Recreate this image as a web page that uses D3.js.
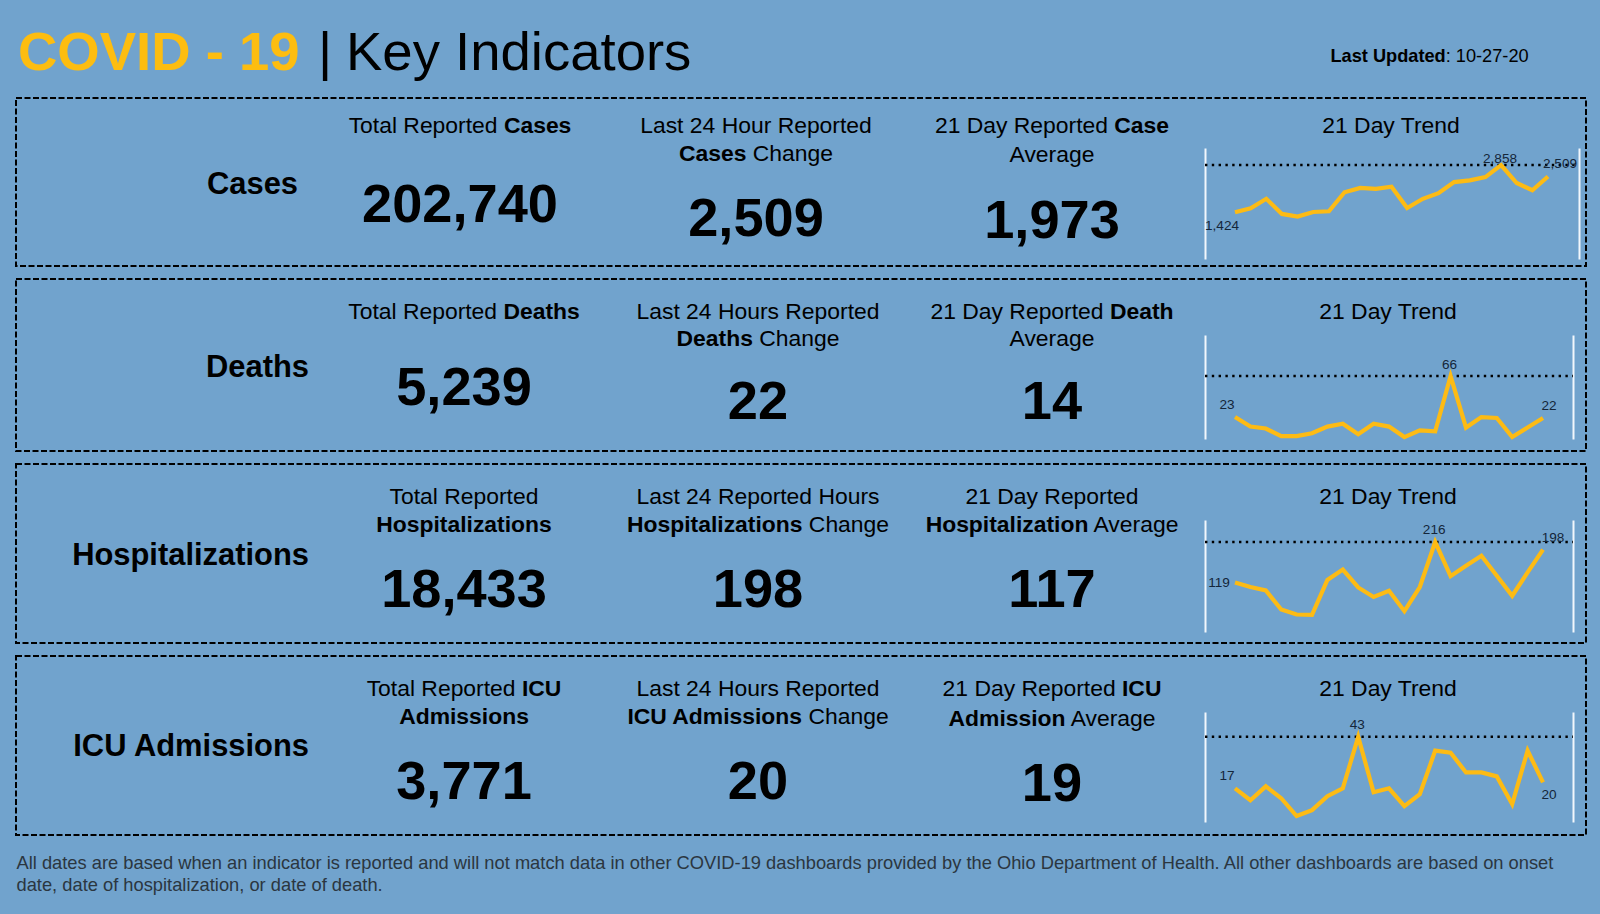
<!DOCTYPE html>
<html>
<head>
<meta charset="utf-8">
<title>COVID - 19 | Key Indicators</title>
<script src="https://cdn.jsdelivr.net/npm/d3@7"></script>
<style>
    html, body { margin: 0; padding: 0; background: #71a3cd; }
    svg { display: block; }
    text { font-family: "Liberation Sans", Arial, sans-serif; fill: #000; }
</style>
</head>
<body>
<script>
// values
const rowNames = ['Cases', 'Deaths', 'Hospitalizations', 'ICU Admissions'];
const totals = ['202,740', '5,239', '18,433', '3,771'];
const changes = ['2,509', '22', '198', '20'];
const averages = ['1,973', '14', '117', '19'];

const caseTrend = [1424, 1540, 1830, 1370, 1290, 1430, 1450, 2030, 2160, 2130, 2200, 1550, 1830, 2000, 2340, 2390, 2490, 2858, 2310, 2090, 2509];
const deathTrend = [23, 13, 11, 3, 3, 6, 13, 16, 5, 16, 13, 2, 9, 8, 66, 12, 23, 22, 2, 12, 22];
const hospTrend = [119, 108, 100, 54, 42, 41, 125, 150, 107, 84, 99, 50, 108, 216, 134, 159, 183, 135, 87, 143, 198];
const icuTrend = [17, 11, 18, 12, 3, 6, 13, 17, 43, 15, 17, 8, 14, 36, 35, 25, 25, 23, 9, 36, 20];
const trends = [caseTrend, deathTrend, hospTrend, icuTrend];

// ** marks the bold part of a header line
const totalHeaders = [
    ['Total Reported **Cases'],
    ['Total Reported **Deaths'],
    ['Total Reported', '**Hospitalizations'],
    ['Total Reported **ICU', '**Admissions']
];
const changeHeaders = [
    ['Last 24 Hour Reported', '**Cases** Change'],
    ['Last 24 Hours Reported', '**Deaths** Change'],
    ['Last 24 Reported Hours', '**Hospitalizations** Change'],
    ['Last 24 Hours Reported', '**ICU Admissions** Change']
];
const averageHeaders = [
    ['21 Day Reported **Case', 'Average'],
    ['21 Day Reported **Death', 'Average'],
    ['21 Day Reported', '**Hospitalization** Average'],
    ['21 Day Reported **ICU', '**Admission** Average']
];

const footnote = [
    'All dates are based when an indicator is reported and will not match data in other COVID-19 dashboards provided by the Ohio Department of Health. All other dashboards are based on onset',
    'date, date of hospitalization, or date of death.'
];

// layout, one entry per row
const layout = [
    { top: 98, bottom: 266, nameX: 298, nameY: 194, headY: 133, lineGap: 27.5, col1: 460, col2: 756, col3: 1052, trendTitle: 1391,
      totalY: 221.5, changeY: 236, avgY: 238, avg2Y: 162,
      plotTop: 148, plotBottom: 259, plotRight: 1579, lastX: 1548, axisTop: 3375,
      first: [-13, 18], peak: [-1, -2], last: [12, -8.5] },
    { top: 279, bottom: 451, nameX: 309, nameY: 376.5, headY: 318.5, lineGap: 27.5, col1: 464, col2: 758, col3: 1052, trendTitle: 1388,
      totalY: 405, changeY: 418.5, avgY: 418.5, avg2Y: 346,
      plotTop: 335, plotBottom: 439, plotRight: 1573, lastX: 1543, axisTop: 109,
      first: [-8, -8], peak: [-1, -7.5], last: [6, -8] },
    { top: 464, bottom: 643, nameX: 309, nameY: 565, headY: 504, lineGap: 27.5, col1: 464, col2: 758, col3: 1052, trendTitle: 1388,
      totalY: 607, changeY: 607, avgY: 607, avg2Y: 531.5,
      plotTop: 520, plotBottom: 632, plotRight: 1573, lastX: 1543, axisTop: 269,
      first: [-16, 5], peak: [-1, -8], last: [10, -7.5] },
    { top: 656, bottom: 835, nameX: 309, nameY: 756, headY: 696, lineGap: 27.5, col1: 464, col2: 758, col3: 1052, trendTitle: 1388,
      totalY: 799, changeY: 799, avgY: 801, avg2Y: 725.5,
      plotTop: 712, plotBottom: 822, plotRight: 1573, lastX: 1543, axisTop: 55.5,
      first: [-8, -8], peak: [-1, -8], last: [6, 16.5] }
];

const LINE_COLOR = '#fdbb14';
const LABEL_COLOR = '#14263a';

const svg = d3.select('body').append('svg')
    .attr('width', 1600)
    .attr('height', 914);

svg.append('rect')
    .attr('width', 1600)
    .attr('height', 914)
    .attr('fill', '#71a3cd');

// title, the three parts sit at their own x
svg.append('text')
    .attr('x', 18)
    .attr('y', 70)
    .attr('font-size', 54.5)
    .attr('font-weight', 'bold')
    .style('fill', '#fdbd10')
    .text('COVID - 19');
svg.append('text')
    .attr('x', 318)
    .attr('y', 70)
    .attr('font-size', 54.5)
    .text('|');
svg.append('text')
    .attr('x', 346)
    .attr('y', 70)
    .attr('font-size', 54.5)
    .text('Key Indicators');

const updated = svg.append('text')
    .attr('x', 1330.5)
    .attr('y', 62)
    .attr('font-size', 18.2);
updated.append('tspan').attr('font-weight', 'bold').text('Last Updated');
updated.append('tspan').text(': 10-27-20');

function header(g, lines, x, y1, y2) {
    lines.forEach(function (line, i) {
        const text = g.append('text')
            .attr('x', x)
            .attr('y', i === 0 ? y1 : y2)
            .attr('text-anchor', 'middle')
            .attr('font-size', 22.9);
        line.split('**').forEach(function (part, j) {
            if (part) {
                text.append('tspan')
                    .attr('font-weight', j % 2 === 1 ? 'bold' : 'normal')
                    .text(part);
            }
        });
    });
}

function bigNumber(g, value, x, y) {
    g.append('text')
        .attr('x', x)
        .attr('y', y)
        .attr('text-anchor', 'middle')
        .attr('font-size', 54.2)
        .attr('font-weight', 'bold')
        .text(value);
}

function trendChart(g, values, pos) {
    const days = d3.range(values.length);
    const x = d3.scalePoint().domain(days).range([1235, pos.lastX]);
    const y = d3.scaleLinear().domain([0, pos.axisTop]).range([pos.plotBottom, pos.plotTop]);
    const peakIndex = d3.maxIndex(values);

    // bare axes, only the domain line is visible
    [d3.axisLeft(y).tickValues([]).tickSize(0).tickPadding(0),
     d3.axisRight(y).tickValues([]).tickSize(0).tickPadding(0)].forEach(function (axis, i) {
        const a = g.append('g')
            .attr('transform', 'translate(' + (i === 0 ? 1205 : pos.plotRight) + ',0)')
            .call(axis);
        a.select('.domain').attr('stroke', '#f2f7fc').attr('stroke-width', 2);
    });

    g.append('line')
        .attr('x1', 1205)
        .attr('x2', pos.plotRight)
        .attr('y1', y(values[peakIndex]))
        .attr('y2', y(values[peakIndex]))
        .attr('stroke', '#000')
        .attr('stroke-width', 2.4)
        .attr('stroke-dasharray', '2.4 4.4');

    g.append('path')
        .datum(values)
        .attr('fill', 'none')
        .attr('stroke', LINE_COLOR)
        .attr('stroke-width', 4.2)
        .attr('stroke-linejoin', 'miter')
        .attr('d', d3.line().x(function (d, i) { return x(i); }).y(function (d) { return y(d); }));

    const labelled = [
        { i: 0, off: pos.first },
        { i: peakIndex, off: pos.peak },
        { i: values.length - 1, off: pos.last }
    ];
    g.selectAll('.point-label')
        .data(labelled)
        .enter().append('text')
        .attr('class', 'point-label')
        .attr('x', function (d) { return x(d.i) + d.off[0]; })
        .attr('y', function (d) { return y(values[d.i]) + d.off[1]; })
        .attr('text-anchor', 'middle')
        .attr('font-size', 13.6)
        .style('fill', LABEL_COLOR)
        .text(function (d) { return d3.format(',')(values[d.i]); });
}

rowNames.forEach(function (name, r) {
    const pos = layout[r];
    const g = svg.append('g').attr('class', 'row');

    g.append('rect')
        .attr('x', 16)
        .attr('y', pos.top)
        .attr('width', 1570)
        .attr('height', pos.bottom - pos.top)
        .attr('fill', 'none')
        .attr('stroke', '#000')
        .attr('stroke-width', 2)
        .attr('stroke-dasharray', '6 2.5');

    g.append('text')
        .attr('x', pos.nameX)
        .attr('y', pos.nameY)
        .attr('text-anchor', 'end')
        .attr('font-size', 30.9)
        .attr('font-weight', 'bold')
        .text(name);

    const line2 = pos.headY + pos.lineGap;
    header(g, totalHeaders[r], pos.col1, pos.headY, line2);
    header(g, changeHeaders[r], pos.col2, pos.headY, line2);
    header(g, averageHeaders[r], pos.col3, pos.headY, pos.avg2Y);
    header(g, ['21 Day Trend'], pos.trendTitle, pos.headY, line2);

    bigNumber(g, totals[r], pos.col1, pos.totalY);
    bigNumber(g, changes[r], pos.col2, pos.changeY);
    bigNumber(g, averages[r], pos.col3, pos.avgY);

    trendChart(g, trends[r], pos);
});

svg.selectAll('.footnote')
    .data(footnote)
    .enter().append('text')
    .attr('class', 'footnote')
    .attr('x', 16.5)
    .attr('y', function (d, i) { return 869 + i * 22; })
    .attr('font-size', 18.31)
    .style('fill', '#2b3640')
    .text(function (d) { return d; });
</script>
</body>
</html>
